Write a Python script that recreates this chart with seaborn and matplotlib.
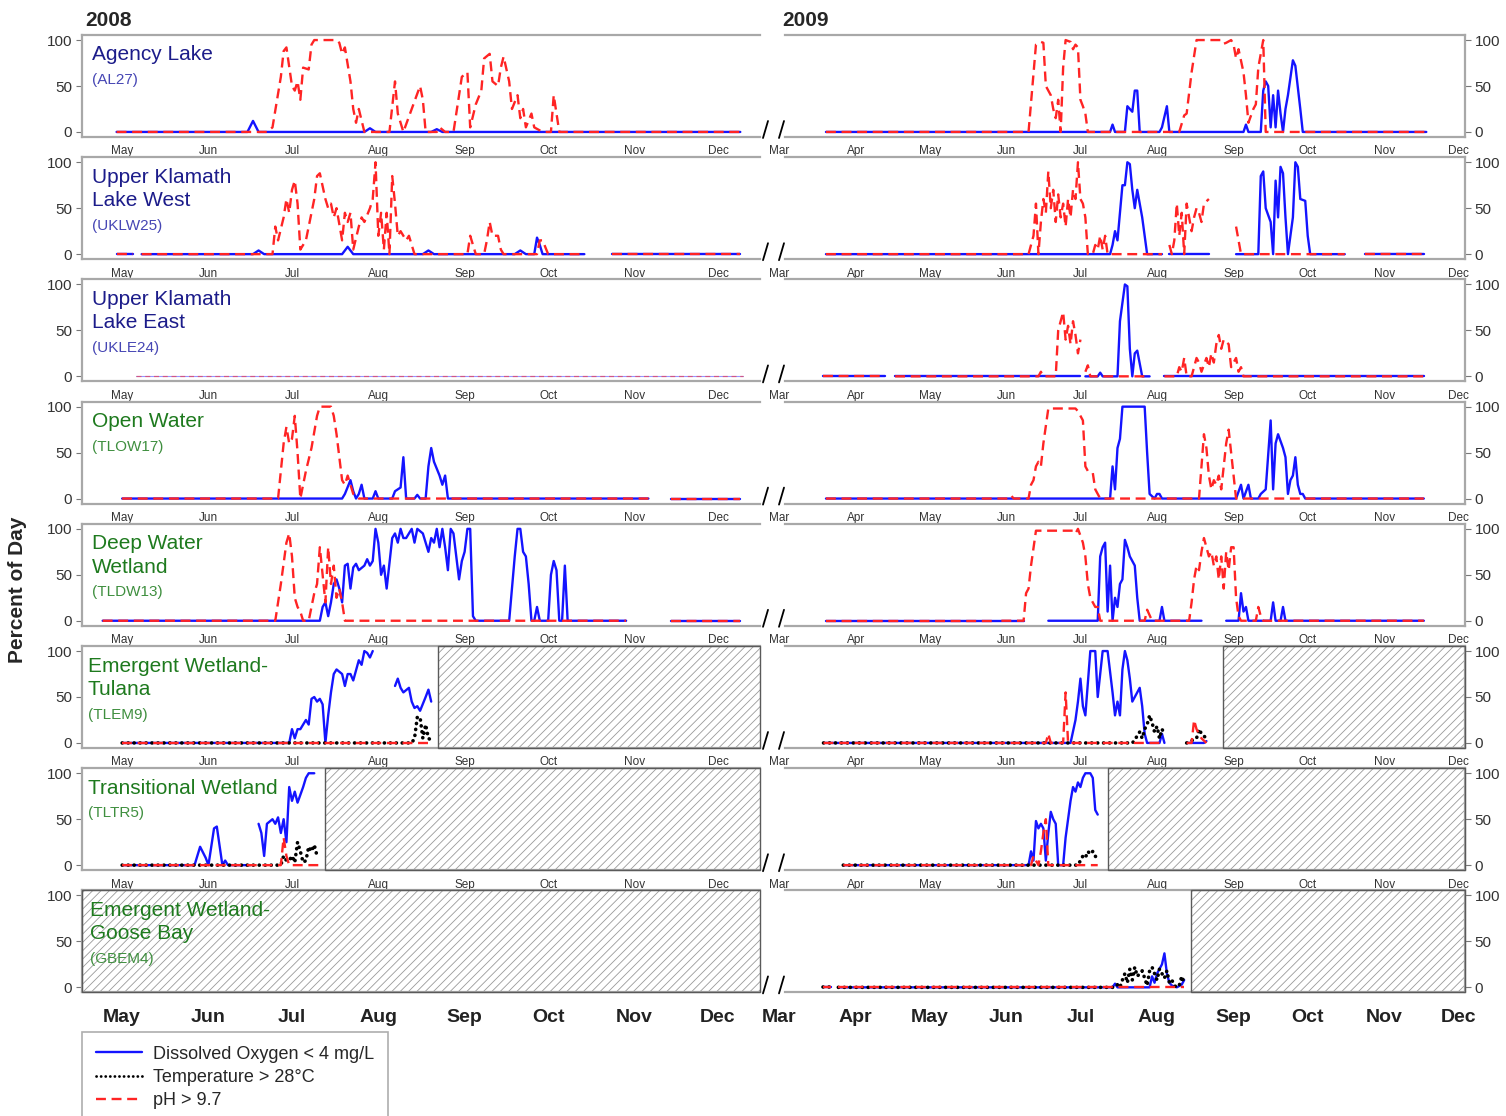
import numpy as np
import pandas as pd
import matplotlib
matplotlib.use("Agg")
import matplotlib.pyplot as plt
import matplotlib.dates as mdates
import matplotlib.transforms as mtransforms
from matplotlib.lines import Line2D
import seaborn as sns

sns.set_style("white")
plt.rcParams['font.family'] = ['Liberation Sans', 'DejaVu Sans']
plt.rcParams['hatch.linewidth'] = 0.6

# ---------------- DATA (dates MM-DD, values = percent of day; None = gap) ----------------
# Agency Lake AL27
al27_08_do_d = ["04-29", "06-15", "06-17", "06-19", "07-27", "07-29", "07-31", "08-20", "08-22", "08-24", "12-09"]
al27_08_do_v = [0, 0, 12, 0, 0, 4, 0, 0, 3, 0, 0]
al27_08_ph_d = ["04-29", "06-22", "06-24", "06-27", "06-28", "06-29", "07-01", "07-02", "07-03", "07-04", "07-05", "07-07",
                "07-08", "07-09", "07-17", "07-18", "07-19", "07-20", "07-22", "07-23", "07-24", "07-25", "07-27", "08-05",
                "08-07", "08-08", "08-10", "08-13", "08-16", "08-17", "08-18", "08-22", "08-23", "08-25", "08-28", "08-31",
                "09-02", "09-03", "09-05", "09-07", "09-08", "09-10", "09-11", "09-13", "09-14", "09-15", "09-17", "09-18",
                "09-20", "09-21", "09-22", "09-23", "09-25", "09-26", "09-29", "10-02", "10-03", "10-05", "12-09"]
al27_08_ph_v = [0, 0, 5, 60, 88, 92, 50, 45, 55, 35, 70, 68,
                95, 100, 100, 97, 85, 92, 55, 25, 10, 25, 0, 0,
                55, 20, 0, 25, 50, 35, 0, 0, 5, 0, 0, 60,
                65, 5, 30, 45, 80, 85, 55, 50, 70, 82, 55, 25,
                40, 15, 25, 5, 20, 5, 0, 0, 40, 0, 0]
al27_09_do_d = ["03-20", "07-13", "07-14", "07-15", "07-19", "07-20", "07-22", "07-23", "07-24", "07-25", "08-02", "08-03",
                "08-05", "08-06", "09-05", "09-06", "09-07", "09-12", "09-13", "09-14", "09-15", "09-16", "09-17", "09-18",
                "09-19", "09-20", "09-21", "09-22", "09-23", "09-25", "09-26", "09-28", "09-29", "09-30", "11-18"]
al27_09_do_v = [0, 0, 8, 0, 0, 28, 22, 45, 45, 0, 0, 5,
                28, 0, 0, 8, 0, 0, 45, 55, 50, 5, 40, 5,
                45, 20, 0, 25, 40, 78, 72, 25, 0, 0, 0]
al27_09_ph_d = ["03-20", "06-10", "06-13", "06-15", "06-16", "06-17", "06-19", "06-20", "06-21", "06-22", "06-23", "06-24",
                "06-25", "06-27", "06-28", "06-29", "06-30", "07-01", "07-02", "07-03", "07-04", "08-10", "08-12", "08-13",
                "08-15", "08-17", "08-27", "08-28", "08-29", "08-31", "09-01", "09-02", "09-03", "09-05", "09-06", "09-07",
                "09-09", "09-10", "09-11", "09-13", "09-14", "11-18"]
al27_09_ph_v = [0, 0, 95, 98, 97, 50, 40, 25, 15, 35, 0, 70,
                100, 98, 90, 95, 92, 35, 28, 20, 0, 0, 18, 20,
                65, 100, 100, 96, 97, 100, 95, 80, 90, 65, 40, 10,
                25, 30, 70, 100, 0, 0]

# Upper Klamath Lake West UKLW25
uklw_08_do_d = ["04-29", "05-05", None, "05-08", "06-17", "06-19", "06-21", "07-19", "07-21", "07-23", "08-17", "08-19",
                "08-21", "09-19", "09-21", "09-23", "09-26", "09-27", "09-28", "09-29", "10-14", None, "10-24", "12-09"]
uklw_08_do_v = [0, 0, None, 0, 0, 4, 0, 0, 8, 0, 0, 4,
                0, 0, 4, 0, 0, 18, 10, 0, 0, None, 0, 0]
uklw_08_ph_d = ["04-29", "05-05", None, "05-08", "06-24", "06-25", "06-26", "06-28", "06-29", "06-30", "07-01", "07-02",
                "07-03", "07-04", "07-06", "07-07", "07-09", "07-10", "07-11", "07-13", "07-14", "07-15", "07-16", "07-17",
                "07-19", "07-20", "07-21", "07-22", "07-23", "07-25", "07-26", "07-27", "07-29", "07-30", "07-31", "08-01",
                "08-02", "08-03", "08-04", "08-05", "08-06", "08-07", "08-08", "08-09", "08-11", "08-12", "08-14", "09-02",
                "09-03", "09-05", "09-08", "09-09", "09-10", "09-11", "09-13", "09-14", "09-15", "09-27", "09-28", "09-29",
                "10-01", "10-14", None, "10-24", "12-09"]
uklw_08_ph_v = [0, 0, None, 0, 0, 30, 15, 40, 60, 45, 70, 80,
                55, 5, 15, 30, 60, 85, 88, 60, 50, 55, 40, 50,
                15, 45, 35, 45, 5, 30, 40, 35, 50, 60, 100, 20,
                45, 5, 45, 0, 85, 55, 20, 25, 15, 20, 0, 0,
                20, 0, 0, 15, 35, 20, 20, 5, 0, 0, 15, 15,
                0, 0, None, 0, 0]
uklw_09_do_d = ["03-20", "07-13", "07-14", "07-15", "07-16", "07-18", "07-19", "07-20", "07-21", "07-22", "07-23", "07-24",
                "07-26", "07-28", "08-03", None, "08-06", "08-22", None, "09-02", "09-11", "09-12", "09-13", "09-14",
                "09-16", "09-17", "09-18", "09-19", "09-20", "09-21", "09-22", "09-23", "09-25", "09-26", "09-27", "09-28",
                "09-30", "10-01", "10-02", "10-16", None, "10-24", "11-17"]
uklw_09_do_v = [0, 0, 10, 25, 15, 75, 75, 100, 98, 70, 50, 70,
                40, 0, 0, None, 0, 0, None, 0, 0, 85, 90, 50,
                35, 0, 80, 40, 95, 88, 40, 0, 40, 100, 95, 60,
                58, 20, 0, 0, None, 0, 0]
uklw_09_ph_d = ["03-20", "06-10", "06-11", "06-12", "06-13", "06-14", "06-15", "06-16", "06-17", "06-18", "06-19", "06-20",
                "06-21", "06-22", "06-23", "06-24", "06-25", "06-26", "06-27", "06-28", "06-29", "06-30", "07-01", "07-02",
                "07-03", "07-04", "07-06", "07-07", "07-08", "07-09", "07-10", "07-11", "07-12", "08-03", None, "08-06",
                "08-07", "08-08", "08-09", "08-10", "08-11", "08-12", "08-13", "08-14", "08-15", "08-16", "08-17", "08-18",
                "08-19", "08-20", "08-22", None, "09-02", "09-04", "10-16", None, "10-24", "11-17"]
uklw_09_ph_v = [0, 0, 10, 20, 55, 0, 35, 60, 45, 90, 50, 70,
                35, 65, 40, 55, 30, 60, 40, 70, 60, 100, 60, 55,
                40, 0, 0, 10, 5, 20, 5, 20, 0, 0, None, 10,
                0, 15, 55, 20, 45, 0, 55, 40, 25, 40, 50, 45,
                35, 55, 60, None, 30, 0, 0, None, 0, 0]

# Upper Klamath Lake East UKLE24
ukle_08_d = ["05-06", "12-10"]
ukle_08_v = [0, 0]
ukle_09_do_d = ["03-19", "04-13", None, "04-17", "07-01", None, "07-03", "07-08", "07-09", "07-10", "07-16", "07-17",
                "07-19", "07-20", "07-21", "07-22", "07-23", "07-24", "07-26", "07-29", None, "08-04", "11-17"]
ukle_09_do_v = [0, 0, None, 0, 0, None, 0, 0, 4, 0, 0, 60,
                100, 98, 30, 0, 25, 28, 0, 0, None, 0, 0]
ukle_09_ph_d = ["03-19", "04-13", None, "04-17", "06-14", "06-15", "06-16", "06-21", "06-22", "06-24", "06-25", "06-26",
                "06-27", "06-28", "06-29", "06-30", "07-01", None, "07-03", "07-04", "07-05", "07-29", None, "08-04",
                "08-09", "08-10", "08-11", "08-12", "08-13", "08-15", "08-16", "08-17", "08-18", "08-19", "08-21", "08-22",
                "08-23", "08-24", "08-25", "08-26", "08-27", "08-28", "08-30", "08-31", "09-02", "09-03", "09-04", "09-05",
                "11-17"]
ukle_09_ph_v = [0, 0, None, 0, 0, 5, 0, 0, 50, 70, 40, 55,
                35, 60, 45, 25, 40, None, 5, 12, 0, 0, None, 0,
                0, 10, 5, 20, 0, 0, 10, 20, 15, 5, 20, 10,
                25, 15, 35, 45, 30, 40, 35, 10, 20, 5, 10, 0,
                0]

# Open Water TLOW17
tlow_08_do_d = ["05-01", "07-19", "07-20", "07-22", "07-23", "07-24", "07-25", "07-26", "07-27", "07-30", "07-31", "08-01",
                "08-06", "08-07", "08-09", "08-10", "08-11", "08-14", "08-15", "08-16", "08-18", "08-19", "08-20", "08-21",
                "08-23", "08-24", "08-25", "08-26", "11-06", None, "11-14", "12-09"]
tlow_08_do_v = [0, 0, 5, 20, 8, 0, 5, 15, 0, 0, 8, 0,
                0, 8, 12, 45, 0, 0, 4, 0, 0, 35, 55, 40,
                25, 15, 25, 0, 0, None, 0, 0]
tlow_08_ph_d = ["05-01", "06-26", "06-28", "06-29", "06-30", "07-01", "07-02", "07-03", "07-04", "07-06", "07-08", "07-10",
                "07-11", "07-15", "07-16", "07-17", "07-18", "07-19", "07-20", "07-21", "07-22", "07-23", "07-25", "11-06",
                None, "11-14", "12-09"]
tlow_08_ph_v = [0, 0, 60, 78, 60, 65, 90, 50, 0, 30, 55, 90,
                100, 100, 90, 70, 45, 20, 15, 25, 15, 5, 0, 0,
                None, 0, 0]
tlow_09_do_d = ["03-20", "07-13", "07-14", "07-15", "07-16", "07-17", "07-18", "07-27", "07-28", "07-29", "07-31", "08-01",
                "08-02", "08-03", "09-02", "09-04", "09-05", "09-07", "09-08", "09-11", "09-12", "09-14", "09-16", "09-17",
                "09-18", "09-19", "09-21", "09-22", "09-23", "09-24", "09-25", "09-26", "09-27", "09-28", "09-29", "09-30",
                "11-17"]
tlow_09_do_v = [0, 0, 35, 10, 55, 65, 100, 100, 50, 5, 0, 5,
                5, 0, 0, 15, 0, 15, 0, 0, 5, 10, 85, 10,
                60, 70, 55, 45, 5, 20, 25, 45, 15, 5, 5, 0,
                0]
tlow_09_ph_d = ["03-20", "06-02", "06-03", "06-04", "06-10", "06-11", "06-12", "06-13", "06-14", "06-15", "06-16", "06-18",
                "06-29", "06-30", "07-02", "07-03", "07-04", "07-06", "07-07", "07-09", "08-18", "08-20", "08-21", "08-22",
                "08-23", "08-24", "08-25", "08-26", "08-27", "08-28", "08-29", "08-30", "08-31", "09-01", "09-02", "11-17"]
tlow_09_ph_v = [0, 0, 3, 0, 0, 15, 20, 35, 40, 35, 60, 98,
                98, 95, 85, 35, 30, 28, 10, 0, 0, 70, 55, 25,
                10, 20, 15, 25, 10, 35, 60, 75, 50, 25, 0, 0]

# Deep Water Wetland TLDW13
tldw_08_do_d = ["04-24", "07-11", "07-12", "07-13", "07-14", "07-15", "07-16", "07-17", "07-18", "07-19", "07-20", "07-21",
                "07-22", "07-23", "07-24", "07-25", "07-27", "07-28", "07-29", "07-30", "07-31", "08-01", "08-02", "08-03",
                "08-04", "08-06", "08-07", "08-08", "08-09", "08-10", "08-11", "08-13", "08-14", "08-15", "08-17", "08-18",
                "08-19", "08-20", "08-21", "08-22", "08-23", "08-24", "08-25", "08-26", "08-27", "08-28", "08-29", "08-30",
                "08-31", "09-01", "09-02", "09-03", "09-04", "09-05", "09-17", "09-19", "09-20", "09-21", "09-22", "09-23",
                "09-24", "09-25", "09-26", "09-27", "09-28", "10-01", "10-02", "10-03", "10-04", "10-05", "10-06", "10-07",
                "10-08", "10-29", None, "11-14", "12-09"]
tldw_08_do_v = [0, 0, 15, 20, 5, 20, 40, 45, 35, 20, 60, 62,
                35, 58, 62, 55, 60, 67, 60, 65, 100, 85, 50, 60,
                35, 90, 95, 85, 100, 90, 90, 100, 85, 100, 95, 85,
                75, 90, 85, 100, 80, 100, 80, 55, 100, 95, 70, 45,
                65, 75, 100, 100, 5, 0, 0, 70, 100, 100, 75, 70,
                40, 0, 0, 15, 0, 0, 50, 65, 55, 0, 0, 60,
                0, 0, None, 0, 0]
tldw_08_ph_d = ["04-24", "06-25", "06-27", "06-29", "06-30", "07-01", "07-02", "07-03", "07-04", "07-05", "07-07", "07-09",
                "07-10", "07-11", "07-12", "07-13", "07-14", "07-15", "07-16", "07-17", "07-18", "07-19", "07-20", "10-29",
                None, "11-14", "12-09"]
tldw_08_ph_v = [0, 0, 40, 85, 95, 70, 25, 15, 10, 0, 0, 30,
                40, 80, 50, 20, 80, 40, 60, 25, 35, 20, 0, 0,
                None, 0, 0]
tldw_09_do_d = ["03-20", "06-08", None, "06-18", "07-08", "07-09", "07-10", "07-11", "07-12", "07-13", "07-14", "07-15",
                "07-16", "07-17", "07-18", "07-19", "07-20", "07-21", "07-22", "07-23", "07-24", "07-25", "08-02", "08-03",
                "08-04", "08-19", None, "08-29", "09-03", "09-04", "09-05", "09-06", "09-07", "09-16", "09-17", "09-18",
                "09-20", "09-21", "09-22", "11-17"]
tldw_09_do_v = [0, 0, None, 0, 0, 70, 80, 85, 10, 60, 0, 25,
                15, 40, 45, 88, 80, 70, 65, 60, 25, 0, 0, 15,
                0, 0, None, 0, 0, 30, 10, 15, 0, 0, 20, 0,
                0, 15, 0, 0]
tldw_09_ph_d = ["03-20", "05-28", None, "05-30", "06-08", "06-09", "06-10", "06-11", "06-13", "06-28", "06-29", "06-30",
                "07-02", "07-03", "07-04", "07-05", "07-07", "07-08", "07-09", "07-27", "07-28", "07-30", "08-14", "08-15",
                "08-16", "08-17", "08-18", "08-19", "08-20", "08-21", "08-22", "08-23", "08-24", "08-25", "08-26", "08-27",
                "08-28", "08-29", "08-30", "08-31", "09-01", "09-02", "09-03", "09-04", "09-10", "09-11", "09-12", "09-13",
                "11-17"]
tldw_09_ph_v = [0, 0, None, 0, 0, 30, 35, 60, 98, 98, 95, 100,
                85, 70, 40, 25, 15, 15, 0, 0, 12, 0, 0, 20,
                45, 60, 55, 75, 90, 80, 70, 75, 60, 70, 45, 70,
                35, 75, 55, 80, 80, 25, 5, 0, 0, 15, 5, 0,
                0]

# Emergent Wetland-Tulana TLEM9
tlem_08_do_d = ["05-01", "06-30", "07-01", "07-02", "07-03", "07-04", "07-05", "07-06", "07-07", "07-08", "07-09", "07-10",
                "07-11", "07-12", "07-13", "07-14", "07-15", "07-16", "07-17", "07-19", "07-20", "07-21", "07-22", "07-23",
                "07-25", "07-26", "07-27", "07-28", "07-29", "07-30", None, "08-07", "08-08", "08-09", "08-10", "08-12",
                "08-13", "08-14", "08-15", "08-16", "08-18", "08-19", "08-20"]
tlem_08_do_v = [0, 0, 15, 5, 15, 15, 20, 25, 20, 48, 50, 45,
                48, 42, 0, 30, 55, 75, 80, 75, 62, 75, 75, 68,
                90, 85, 100, 98, 93, 100, None, 62, 70, 60, 55, 60,
                45, 38, 40, 35, 50, 58, 45]
tlem_08_t_d = ["05-01", "08-13", "08-14", "08-15", "08-16", "08-17", "08-18", "08-19", "08-20"]
tlem_08_t_v = [0, 0, 5, 28, 28, 5, 20, 5, 3]
tlem_08_ph_d = ["05-01", "08-20"]
tlem_08_ph_v = [0, 0]
tlem_09_do_d = ["03-19", "06-27", "06-29", "06-30", "07-01", "07-02", "07-03", "07-05", "07-07", "07-08", "07-10", "07-12",
                "07-14", "07-15", "07-16", "07-17", "07-18", "07-19", "07-20", "07-21", "07-22", "07-23", "07-25", "07-26",
                "07-27", "07-28", "08-02", "08-03", "08-04", None, "08-13", "08-20", "08-21"]
tlem_09_do_v = [0, 0, 25, 45, 70, 40, 30, 100, 100, 50, 100, 100,
                55, 30, 45, 30, 80, 100, 90, 70, 45, 50, 60, 40,
                10, 0, 0, 10, 0, None, 0, 0, 2]
tlem_09_t_d = ["03-19", "07-22", "07-23", "07-24", "07-25", "07-26", "07-27", "07-28", "07-29", "07-30", "07-31", "08-01",
               "08-02", "08-03", "08-04", None, "08-13", "08-17", "08-18", "08-19", "08-21"]
tlem_09_t_v = [0, 0, 3, 8, 12, 5, 15, 20, 30, 22, 12, 18,
               5, 15, 10, None, 0, 5, 15, 10, 5]
tlem_09_ph_d = ["03-19", "06-17", "06-18", "06-19", "06-24", "06-25", "06-26", "08-04", None, "08-13", "08-15", "08-16",
                "08-17", "08-18", "08-19", "08-21"]
tlem_09_ph_v = [0, 0, 10, 0, 0, 55, 0, 0, None, 0, 0, 25,
                15, 10, 5, 0]

# Transitional Wetland TLTR5
tltr_08_do_d = ["05-01", "05-27", "05-29", "05-31", "06-01", "06-03", "06-04", "06-06", "06-07", "06-08", "06-16", None,
                "06-19", "06-20", "06-21", "06-22", "06-24", "06-25", "06-26", "06-27", "06-28", "06-29", "06-30", "07-01",
                "07-02", "07-03", "07-05", "07-06", "07-07", "07-09"]
tltr_08_do_v = [0, 0, 20, 8, 0, 40, 42, 0, 5, 0, 0, None,
                45, 35, 10, 45, 50, 45, 52, 35, 50, 25, 85, 70,
                80, 68, 85, 95, 100, 100]
tltr_08_t_d = ["05-01", "06-27", "06-28", "06-29", "06-30", "07-01", "07-02", "07-03", "07-04", "07-05", "07-06", "07-07",
               "07-08", "07-09", "07-10"]
tltr_08_t_v = [0, 0, 10, 5, 5, 10, 3, 25, 15, 3, 5, 20,
               15, 22, 10]
tltr_08_ph_d = ["05-01", "06-27", "06-28", "06-29", "06-30", "07-11"]
tltr_08_ph_v = [0, 0, 30, 10, 0, 0]
tltr_09_do_d = ["03-27", "06-10", "06-11", "06-12", "06-13", "06-14", "06-15", "06-16", "06-17", "06-18", "06-19", "06-20",
                "06-21", "06-22", "06-24", "06-25", "06-27", "06-28", "06-29", "06-30", "07-01", "07-02", "07-03", "07-05",
                "07-06", "07-07", "07-08"]
tltr_09_do_v = [0, 0, 15, 5, 48, 40, 45, 40, 5, 35, 58, 50,
                45, 0, 0, 30, 70, 85, 80, 90, 85, 95, 100, 100,
                95, 60, 55]
tltr_09_t_d = ["03-27", "06-30", "07-01", "07-02", "07-03", "07-04", "07-05", "07-06", "07-07", "07-08"]
tltr_09_t_v = [0, 0, 5, 10, 8, 15, 12, 15, 10, 5]
tltr_09_ph_d = ["03-27", "06-11", "06-12", "06-13", "06-14", "06-15", "06-16", "06-17", "06-18", "07-08"]
tltr_09_ph_v = [0, 0, 10, 5, 0, 15, 35, 50, 0, 0]

# Emergent Wetland-Goose Bay GBEM4
gbem_09_do_d = ["03-19", "03-22", None, "03-25", "07-14", "07-15", "07-16", "07-29", "07-30", "07-31", "08-01", "08-02",
                "08-03", "08-04", "08-05", "08-06", "08-07", "08-09", "08-11", "08-12"]
gbem_09_do_v = [0, 0, None, 0, 0, 4, 0, 0, 12, 5, 15, 20,
                25, 37, 15, 5, 2, 0, 3, 8]
gbem_09_t_d = ["03-19", "03-22", None, "03-25", "07-15", "07-16", "07-17", "07-18", "07-19", "07-20", "07-21", "07-22",
               "07-23", "07-24", "07-25", "07-26", "07-27", "07-28", "07-29", "07-30", "07-31", "08-01", "08-02", "08-03",
               "08-04", "08-05", "08-06", "08-07", "08-08", "08-09", "08-10", "08-11", "08-12"]
gbem_09_t_v = [0, 0, None, 0, 0, 3, 0, 8, 15, 5, 20, 8,
               22, 12, 15, 18, 10, 2, 18, 22, 15, 8, 20, 15,
               10, 18, 5, 8, 2, 0, 2, 12, 5]
gbem_09_ph_d = ["03-19", "03-22", None, "03-25", "08-12"]
gbem_09_ph_v = [0, 0, None, 0, 0]

# Periods with no data (hatched): start date, through end of panel
nodata_08 = {"TLEM9": "08-22 12:00", "TLTR5": "07-12 22:00", "GBEM4": "04-10"}
nodata_09 = {"TLEM9": "08-27 18:00", "TLTR5": "07-12 08:00", "GBEM4": "08-14 20:00"}

site_names = [["Agency Lake"], ["Upper Klamath", "Lake West"], ["Upper Klamath", "Lake East"], ["Open Water"],
              ["Deep Water", "Wetland"], ["Emergent Wetland-", "Tulana"], ["Transitional Wetland"],
              ["Emergent Wetland-", "Goose Bay"]]
site_codes = ["AL27", "UKLW25", "UKLE24", "TLOW17", "TLDW13", "TLEM9", "TLTR5", "GBEM4"]
site_kind = ["lake", "lake", "lake", "wet", "wet", "wet", "wet", "wet"]
years = ["2008", "2009"]
legend_labels = ["Dissolved Oxygen < 4 mg/L", "Temperature > 28\u00b0C", "pH > 9.7"]

series = {
    ("AL27", 2008): dict(do=(al27_08_do_d, al27_08_do_v), ph=(al27_08_ph_d, al27_08_ph_v)),
    ("AL27", 2009): dict(do=(al27_09_do_d, al27_09_do_v), ph=(al27_09_ph_d, al27_09_ph_v)),
    ("UKLW25", 2008): dict(do=(uklw_08_do_d, uklw_08_do_v), ph=(uklw_08_ph_d, uklw_08_ph_v)),
    ("UKLW25", 2009): dict(do=(uklw_09_do_d, uklw_09_do_v), ph=(uklw_09_ph_d, uklw_09_ph_v)),
    ("UKLE24", 2008): dict(faint=(ukle_08_d, ukle_08_v)),
    ("UKLE24", 2009): dict(do=(ukle_09_do_d, ukle_09_do_v), ph=(ukle_09_ph_d, ukle_09_ph_v)),
    ("TLOW17", 2008): dict(do=(tlow_08_do_d, tlow_08_do_v), ph=(tlow_08_ph_d, tlow_08_ph_v)),
    ("TLOW17", 2009): dict(do=(tlow_09_do_d, tlow_09_do_v), ph=(tlow_09_ph_d, tlow_09_ph_v)),
    ("TLDW13", 2008): dict(do=(tldw_08_do_d, tldw_08_do_v), ph=(tldw_08_ph_d, tldw_08_ph_v)),
    ("TLDW13", 2009): dict(do=(tldw_09_do_d, tldw_09_do_v), ph=(tldw_09_ph_d, tldw_09_ph_v)),
    ("TLEM9", 2008): dict(do=(tlem_08_do_d, tlem_08_do_v), t=(tlem_08_t_d, tlem_08_t_v), ph=(tlem_08_ph_d, tlem_08_ph_v)),
    ("TLEM9", 2009): dict(do=(tlem_09_do_d, tlem_09_do_v), t=(tlem_09_t_d, tlem_09_t_v), ph=(tlem_09_ph_d, tlem_09_ph_v)),
    ("TLTR5", 2008): dict(do=(tltr_08_do_d, tltr_08_do_v), t=(tltr_08_t_d, tltr_08_t_v), ph=(tltr_08_ph_d, tltr_08_ph_v)),
    ("TLTR5", 2009): dict(do=(tltr_09_do_d, tltr_09_do_v), t=(tltr_09_t_d, tltr_09_t_v), ph=(tltr_09_ph_d, tltr_09_ph_v)),
    ("GBEM4", 2008): dict(),
    ("GBEM4", 2009): dict(do=(gbem_09_do_d, gbem_09_do_v), t=(gbem_09_t_d, gbem_09_t_v), ph=(gbem_09_ph_d, gbem_09_ph_v)),
}

# ---------------- STYLE ----------------
W, H = 1506, 1116
DO_C, PH_C, T_C = "#1414ff", "#ff2424", "black"
SPINE_C = "#a8a8a8"
LAKE_C, LAKE_C2 = "#1c1c8a", "#4646b4"
WET_C, WET_C2 = "#1e7a1e", "#3f8f3f"

styles = {
    "do": dict(color=DO_C, lw=1.7, linestyle="-", zorder=3),
    "t": dict(color=T_C, lw=2.6, linestyle=(0, (0.05, 1.6)), zorder=4, dash_capstyle="round"),
    "ph": dict(color=PH_C, lw=1.7, linestyle=(0, (4.2, 2.4)), zorder=5),
}


def to_df(dates, vals, year):
    rows, seg = [], 0
    for d, v in zip(dates, vals):
        if v is None:
            seg += 1
            continue
        rows.append((pd.Timestamp(f"{year}-{d}"), float(v), seg))
    return pd.DataFrame(rows, columns=["date", "pct", "seg"])


fig = plt.figure(figsize=(W / 100, H / 100), dpi=100)

xl = {2008: (pd.Timestamp("2008-04-16 14:00"), pd.Timestamp("2008-12-16 02:00")),
      2009: (pd.Timestamp("2009-03-03 10:00"), pd.Timestamp("2009-12-03 16:00"))}
xpx = {2008: (82, 760), 2009: (785, 1465)}

for i, code in enumerate(site_codes):
    top = 35 + 122.2 * i
    bot = 137 + 122.2 * i
    for year in (2008, 2009):
        x0, x1 = xpx[year]
        ax = fig.add_axes([x0 / W, 1 - bot / H, (x1 - x0) / W, (bot - top) / H])
        ax.set_xlim(*xl[year])
        ax.set_ylim(-5.5, 105.5)
        data = series[(code, year)]
        for key in ("do", "t", "ph"):
            if key in data:
                df = to_df(*data[key], year)
                sns.lineplot(data=df, x="date", y="pct", units="seg", estimator=None, ax=ax,
                             legend=False, **styles[key])
        if "faint" in data:
            df = to_df(*data["faint"], year)
            sns.lineplot(data=df, x="date", y="pct", units="seg", estimator=None, ax=ax, legend=False,
                         color=DO_C, lw=0.8, alpha=0.45, zorder=3)
            sns.lineplot(data=df, x="date", y="pct", units="seg", estimator=None, ax=ax, legend=False,
                         color=PH_C, lw=0.9, alpha=0.55, linestyle=(0, (4, 3)), zorder=4)
        ax.set_xlim(*xl[year])
        ax.set_ylim(-5.5, 105.5)
        ax.set_xlabel("")
        ax.set_ylabel("")
        nd = (nodata_08 if year == 2008 else nodata_09).get(code)
        if nd is not None:
            start = max(pd.Timestamp(f"{year}-{nd}"), xl[year][0])
            ax.axvspan(start, xl[year][1], facecolor="white", edgecolor="#9a9a9a", hatch="////", lw=0, zorder=1)
            ax.axvspan(start, xl[year][1], fill=False, edgecolor="#5a5a5a", lw=1.0, zorder=6, clip_on=False)
        # axes styling
        ax.xaxis.set_major_locator(mdates.MonthLocator())
        ax.xaxis.set_major_formatter(mdates.DateFormatter("%b"))
        ax.set_yticks([0, 50, 100])
        for s in ax.spines.values():
            s.set_color(SPINE_C)
            s.set_linewidth(1.6)
        if year == 2008:
            ax.spines["right"].set_visible(False)
        else:
            ax.spines["left"].set_visible(False)
            ax.yaxis.tick_right()
        ax.tick_params(axis="y", length=4, width=0.8, color="#777", labelsize=11, labelcolor="#333", pad=3,
                       left=(year == 2008), right=(year == 2009))
        last = i == len(site_codes) - 1
        if last:
            ax.tick_params(axis="x", length=3, width=0.8, color="#888", labelsize=14, pad=9, labelcolor="#222")
            for lab in ax.get_xticklabels():
                lab.set_fontweight("bold")
        else:
            ax.tick_params(axis="x", length=3, width=0.8, color="#888", labelsize=8.5, pad=3, labelcolor="#333")
        ax.set_facecolor("none")
        if year == 2009:
            # "Mar" label sits just left of the broken axis
            trans = mtransforms.blended_transform_factory(ax.transData, ax.transAxes)
            ax.annotate("Mar", xy=(mdates.date2num(pd.Timestamp("2009-03-01")), 0), xycoords=trans,
                        xytext=(0, -(12 if last else 6)), textcoords="offset points",
                        ha="center", va="top", fontsize=14 if last else 8.5,
                        fontweight="bold" if last else "normal", color="#222" if last else "#333",
                        annotation_clip=False)

    # axis break marks
    for sx in (763, 779):
        fig.add_artist(Line2D([sx / W, (sx + 5) / W], [1 - (bot + 1) / H, 1 - (bot - 16) / H],
                              transform=fig.transFigure, color="black", lw=1.3))

    # site labels
    c1, c2 = (LAKE_C, LAKE_C2) if site_kind[i] == "lake" else (WET_C, WET_C2)
    lx = 92 if i < 5 else (88 if i < 7 else 90)
    ly = 55 + 122.2 * i
    for j, nm in enumerate(site_names[i]):
        fig.text(lx / W, 1 - (ly + 23.5 * j) / H, nm, fontsize=15, color=c1, ha="left", va="center", zorder=10)
    fig.text(lx / W, 1 - (ly + 23.5 * len(site_names[i]) + 1.5) / H, f"({code})", fontsize=11, color=c2,
             ha="left", va="center", zorder=10)

fig.text(85 / W, 1 - 21 / H, years[0], fontsize=15, fontweight="bold", ha="left", va="center")
fig.text(782 / W, 1 - 21 / H, years[1], fontsize=15, fontweight="bold", ha="left", va="center")
fig.text(18 / W, 1 - 590 / H, "Percent of Day", rotation=90, fontsize=15, fontweight="bold", ha="center", va="center")

handles = [Line2D([], [], **{k: v for k, v in styles[k2].items() if k != "zorder"}) for k2 in ("do", "t", "ph")]
handles[1].set_linewidth(2.0)
leg = fig.legend(handles, legend_labels, loc="upper left", bbox_to_anchor=(82 / W, 1 - 1032 / H),
                 frameon=True, fancybox=False, fontsize=13, handlelength=2.6, handletextpad=0.6,
                 borderpad=0.75, labelspacing=0.35, borderaxespad=0)
leg.get_frame().set_edgecolor("#9a9a9a")
leg.get_frame().set_linewidth(1.2)

fig.savefig("out.png", dpi=100)
